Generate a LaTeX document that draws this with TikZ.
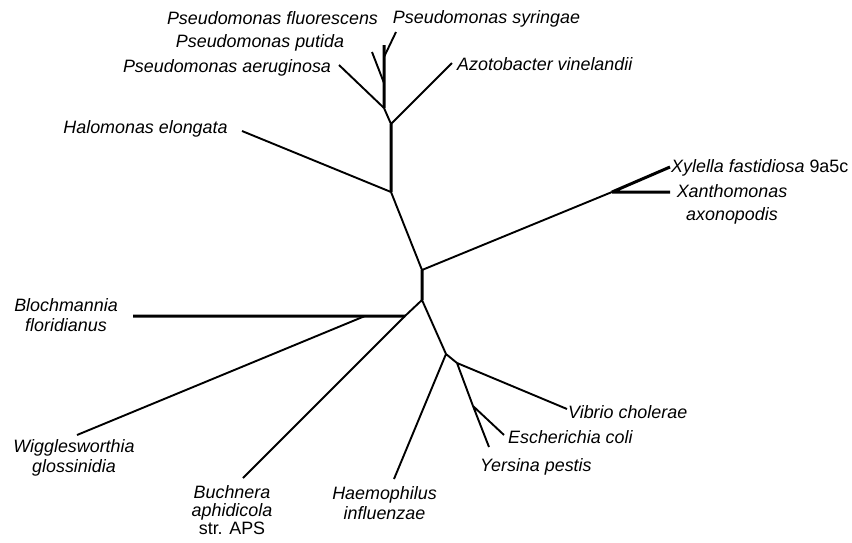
\documentclass[tikz,border=0pt]{standalone}
\usepackage{fontspec}
\setmainfont{Liberation Sans}
\begin{document}
\begin{tikzpicture}[x=1pt,y=-1pt,line join=round,font=\fontsize{17.9}{20.5}\selectfont\itshape]
	\tikzset{br/.style={line width=1.9pt},
		stem/.style={line width=3pt},
		lab/.style={inner sep=0pt,align=center}
	}
	\useasboundingbox (0,0) rectangle (852,542);
	% inner nodes of the tree
	\coordinate (p1) at (384,57);
	\coordinate (p2) at (384,83);
	\coordinate (n1) at (384,108);
	\coordinate (n2) at (391,124);
	\coordinate (n3) at (391,192);
	\coordinate (n4) at (422,270);
	\coordinate (n5) at (422,300);
	\coordinate (n6) at (405,316);
	\coordinate (n7) at (365,316);
	\coordinate (n8) at (446,354);
	\coordinate (n9) at (457,363);
	\coordinate (n10) at (473,406);
	\coordinate (n11) at (612,192);
	% tips
	\coordinate (tflu) at (384,45);
	\coordinate (tsyr) at (396,32);
	\coordinate (tput) at (372,52);
	\coordinate (taer) at (339,65);
	\coordinate (tazo) at (452,63);
	\coordinate (thal) at (242,131);
	\coordinate (txyl) at (670,167);
	\coordinate (txan) at (670,192);
	\coordinate (tblo) at (133,316);
	\coordinate (twig) at (77,435);
	\coordinate (tbuc) at (243,478);
	\coordinate (thae) at (394,479);
	\coordinate (tvib) at (567,409);
	\coordinate (tesc) at (504,435);
	\coordinate (tyer) at (489,447);
	% branches
	\draw[stem] (tflu)--(p1)--(p2)--(n1) (n2)--(n3) (n4)--(n5)
		(n6)--(n7)--(tblo) (n11)--(txyl) (n11)--(txan);
	\draw[br] (p1)--(tsyr) (p2)--(tput) (n1)--(taer) (n1)--(n2)--(tazo)
		(n3)--(thal) (n3)--(n4)--(n11) (n5)--(n6)--(tbuc) (n7)--(twig)
		(n5)--(n8)--(thae) (n8)--(n9)--(tvib) (n9)--(n10)--(tesc) (n10)--(tyer);
	% labels
	\node[lab] (flu) at (272.5,18) {Pseudomonas fluorescens};
	\node[lab] (syr) at (486.5,19) {Pseudomonas syringae};
	\node[lab] (put) at (260,43) {Pseudomonas putida};
	\node[lab] (aer) at (227,68) {Pseudomonas aeruginosa};
	\node[lab,anchor=west] (azo) at (457,64) {Azotobacter vinelandii};
	\node[lab] (hal) at (145.5,129) {Halomonas elongata};
	\node[lab,anchor=west] (xyl) at (671,168) {Xylella fastidiosa \upshape 9a5c};
	\node[lab,font=\fontsize{17.9}{23}\selectfont\itshape] (xan) at (732,204.5) {Xanthomonas\\axonopodis};
	\node[lab] (blo) at (66,315) {Blochmannia\\floridianus};
	\node[lab] (wig) at (74,458) {Wigglesworthia\\glossinidia};
	\node[lab,font=\fontsize{17.9}{18}\selectfont\itshape] (buc) at (232,510) {Buchnera\\aphidicola\\\upshape str. APS};
	\node[lab] (hae) at (384.5,503) {Haemophilus\\influenzae};
	\node[lab,anchor=west] (vib) at (568,412) {Vibrio cholerae};
	\node[lab,anchor=west] (esc) at (508,437) {Escherichia coli};
	\node[lab,anchor=west] (yer) at (480,467) {Yersina pestis};
\end{tikzpicture}
\end{document}
